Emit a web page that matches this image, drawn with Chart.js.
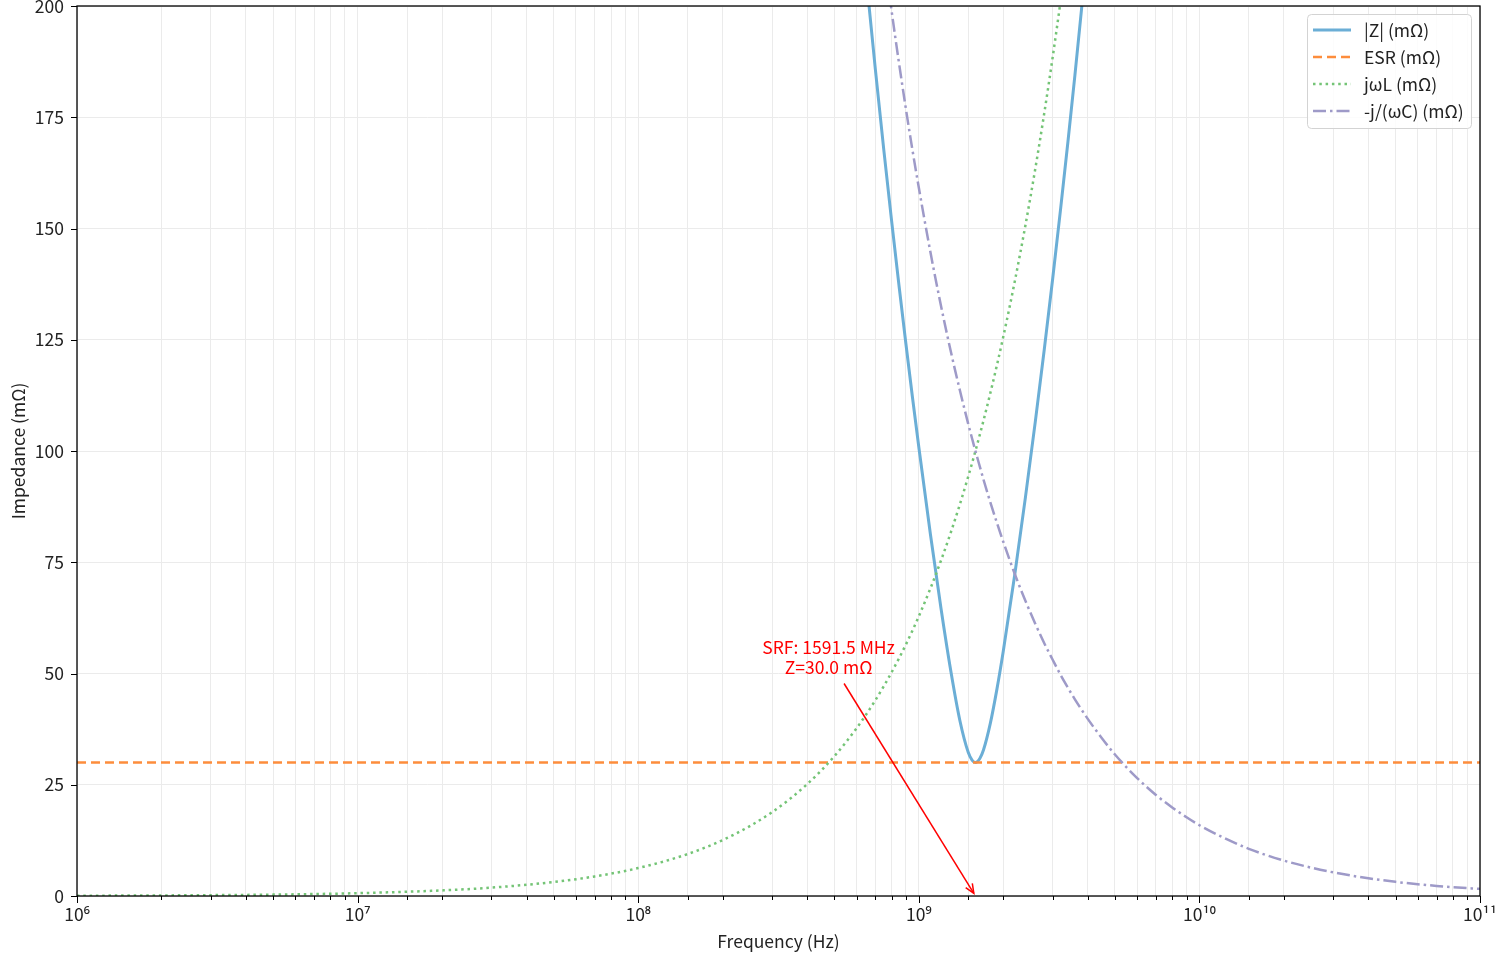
<!DOCTYPE html>
<html>
<head>
<meta charset="utf-8">
<title>Impedance vs frequency</title>
<script src="https://cdn.jsdelivr.net/npm/chart.js@4.4.1/dist/chart.umd.min.js"></script>
<style>
  html, body { margin: 0; padding: 0; background: #fff; overflow: hidden; }
  #wrap { position: absolute; left: 0; top: 0; width: 1511px; height: 954px; }
</style>
</head>
<body>
<div id="wrap"><canvas id="chart"></canvas></div>
<script>
// --- data (frequency in Hz, impedance in mOhm) ---
const freqHz = [
  1e6, 2e6, 3e6, 5e6, 7e6,
  1e7, 2e7, 3e7, 5e7, 7e7,
  1e8, 1.5e8, 2e8, 2.5e8, 3e8, 3.5e8, 4e8, 4.5e8, 5e8, 5.5e8, 6e8, 6.5e8, 7e8, 7.5e8, 8e8, 8.5e8, 9e8, 9.5e8,
  1e9, 1.1e9, 1.2e9, 1.3e9, 1.4e9, 1.5e9, 1.55e9, 1.5915e9, 1.65e9, 1.7e9, 1.8e9, 1.9e9, 2e9, 2.2e9, 2.4e9, 2.6e9, 2.8e9, 3e9, 3.2e9, 3.4e9, 3.6e9, 3.8e9, 4e9, 4.5e9,
  5e9, 6e9, 7e9, 8e9, 9e9,
  1e10, 1.2e10, 1.5e10, 2e10, 2.5e10, 3e10, 4e10, 5e10, 6e10, 7e10, 8e10, 1e11
];
const zMag = [
  null, null, null, null, null,
  null, null, null, null, null,
  null, null, null, null, null, null, null, null, null, null, 229.5, 206.2, 185.8, 167.8, 151.7, 137.2, 124.0, 111.9,
  100.9, 81.3, 64.6, 50.6, 39.5, 32.3, 30.5, 30.0, 30.9, 32.8, 38.9, 46.6, 55.0, 72.4, 89.7, 106.5, 122.8, 138.7, 154.3, 169.5, 184.4, 199.2, 213.7, null,
  null, null, null, null, null,
  null, null, null, null, null, null, null, null, null, null, null, null
];
const xInductive = [
  0.06, 0.13, 0.19, 0.31, 0.44,
  0.63, 1.26, 1.88, 3.14, 4.40,
  6.28, 9.42, 12.57, 15.71, 18.85, 21.99, 25.13, 28.27, 31.42, 34.56, 37.70, 40.84, 43.98, 47.12, 50.27, 53.41, 56.55, 59.69,
  62.83, 69.12, 75.40, 81.68, 87.96, 94.25, 97.39, 100.0, 103.67, 106.81, 113.10, 119.38, 125.66, 138.23, 150.80, 163.36, 175.93, 188.50, 201.06, 213.63, null, null, null, null,
  null, null, null, null, null,
  null, null, null, null, null, null, null, null, null, null, null, null
];
const xCapacitive = [
  null, null, null, null, null,
  null, null, null, null, null,
  null, null, null, null, null, null, null, null, null, null, 265.3, 244.9, 227.4, 212.2, 198.9, 187.2, 176.8, 167.5,
  159.2, 144.7, 132.6, 122.4, 113.7, 106.1, 102.7, 100.0, 96.5, 93.6, 88.4, 83.8, 79.6, 72.3, 66.3, 61.2, 56.8, 53.1, 49.7, 46.8, 44.2, 41.9, 39.8, 35.4,
  31.8, 26.5, 22.7, 19.9, 17.7,
  15.9, 13.3, 10.6, 7.96, 6.37, 5.31, 3.98, 3.18, 2.65, 2.27, 1.99, 1.59
];
const esrFreq = [1e6, 1e11];
const esrValues = [30, 30];
const seriesLabels = ['|Z| (mΩ)', 'ESR (mΩ)', 'jωL (mΩ)', '-j/(ωC) (mΩ)'];
const yTickStep = 25;
const xRange = [1e6, 1e11];
const yRange = [0, 200];
const annotLines = ['SRF: 1591.5 MHz', 'Z=30.0 mΩ'];
const annotTextAt = [4.77e8, 50];
const annotPointAt = [1.5915e9, 0.03];

const FONT = '"Noto Sans CJK SC", "Noto Sans", "DejaVu Sans", sans-serif';
const FS = 17.5;
const SUP = { '-': '⁻', 0: '⁰', 1: '¹', 2: '²', 3: '³', 4: '⁴', 5: '⁵', 6: '⁶', 7: '⁷', 8: '⁸', 9: '⁹' };
const isDecade = v => Math.abs(Math.log10(v) - Math.round(Math.log10(v))) < 1e-9;
const pts = (xs, ys) => xs.map((f, i) => ({ x: f, y: ys[i] }));

// --- frame, tick marks, titles, annotation and legend ---
const decorPlugin = {
  id: 'decor',
  afterDatasetsDraw(chart) {
    const { ctx, chartArea: a, scales: { x, y } } = chart;
    ctx.save();
    ctx.strokeStyle = '#000';
    ctx.lineWidth = 1.3;
    ctx.strokeRect(a.left, a.top, a.right - a.left, a.bottom - a.top);

    ctx.lineWidth = 1;
    x.ticks.forEach(t => {
      const px = Math.round(x.getPixelForValue(t.value)) + 0.5;
      ctx.beginPath(); ctx.moveTo(px, a.bottom); ctx.lineTo(px, a.bottom + (isDecade(t.value) ? 7 : 4)); ctx.stroke();
    });
    y.ticks.forEach(t => {
      const py = Math.round(y.getPixelForValue(t.value)) + 0.5;
      ctx.beginPath(); ctx.moveTo(a.left, py); ctx.lineTo(a.left - 6, py); ctx.stroke();
    });

    ctx.fillStyle = '#222';
    ctx.font = FS + 'px ' + FONT;
    ctx.textAlign = 'center'; ctx.textBaseline = 'middle';
    ctx.fillText('Frequency (Hz)', (a.left + a.right) / 2, 941);
    ctx.save();
    ctx.translate(18, (a.top + a.bottom) / 2);
    ctx.rotate(-Math.PI / 2);
    ctx.fillText('Impedance (mΩ)', 0, 0);
    ctx.restore();

    // SRF annotation
    const cx = x.getPixelForValue(annotTextAt[0]);
    const base = y.getPixelForValue(annotTextAt[1]);
    ctx.fillStyle = '#ff0000';
    ctx.textBaseline = 'alphabetic';
    annotLines.forEach((l, i) => ctx.fillText(l, cx, base - (annotLines.length - 1 - i) * 20));
    const tx = x.getPixelForValue(annotPointAt[0]), ty = y.getPixelForValue(annotPointAt[1]);
    const cy = base - 15, sy = base + 10;
    const sx = cx + (sy - cy) / (ty - cy) * (tx - cx);
    const ang = Math.atan2(ty - sy, tx - sx);
    const ex = tx - 3 * Math.cos(ang), ey = ty - 3 * Math.sin(ang);
    ctx.strokeStyle = '#ff0000'; ctx.lineWidth = 1.5;
    ctx.beginPath(); ctx.moveTo(sx, sy); ctx.lineTo(ex, ey); ctx.stroke();
    ctx.beginPath();
    ctx.moveTo(ex - 10 * Math.cos(ang - 0.4), ey - 10 * Math.sin(ang - 0.4));
    ctx.lineTo(ex, ey);
    ctx.lineTo(ex - 10 * Math.cos(ang + 0.4), ey - 10 * Math.sin(ang + 0.4));
    ctx.stroke();

    // legend box
    const bw = 164, bh = 114, bx = a.right - 9 - bw, by = a.top + 8;
    ctx.beginPath();
    ctx.roundRect(bx + 0.5, by + 0.5, bw, bh, 4);
    ctx.fillStyle = 'rgba(255,255,255,0.85)'; ctx.fill();
    ctx.strokeStyle = '#d3d3d3'; ctx.lineWidth = 1; ctx.stroke();
    ctx.textAlign = 'left'; ctx.textBaseline = 'middle';
    chart.data.datasets.forEach((ds, i) => {
      const ry = by + 16 + i * 27;
      ctx.strokeStyle = ds.borderColor; ctx.lineWidth = ds.borderWidth;
      ctx.setLineDash(ds.borderDash || []);
      ctx.beginPath(); ctx.moveTo(bx + 6, ry); ctx.lineTo(bx + 44, ry); ctx.stroke();
      ctx.setLineDash([]);
      ctx.fillStyle = '#222';
      ctx.fillText(ds.label, bx + 57, ry);
    });
    ctx.restore();
  }
};

const common = { pointRadius: 0, fill: false, clip: 0, cubicInterpolationMode: 'monotone', spanGaps: false };

new Chart(document.getElementById('chart'), {
  type: 'line',
  data: {
    datasets: [
      { ...common, label: seriesLabels[0], data: pts(freqHz, zMag), borderColor: '#6baed6', borderWidth: 3, order: 4 },
      { ...common, label: seriesLabels[1], data: pts(esrFreq, esrValues), borderColor: '#fd8d3c', borderWidth: 2.5, borderDash: [9, 5], order: 3 },
      { ...common, label: seriesLabels[2], data: pts(freqHz, xInductive), borderColor: '#74c476', borderWidth: 2.5, borderDash: [2.5, 3.8], order: 2 },
      { ...common, label: seriesLabels[3], data: pts(freqHz, xCapacitive), borderColor: '#9e9ac8', borderWidth: 2.5, borderDash: [13, 4, 2.5, 4], order: 1 }
    ]
  },
  options: {
    responsive: true,
    maintainAspectRatio: false,
    animation: false,
    layout: { padding: { top: 6, right: 31, bottom: 0, left: 0 } },
    plugins: { legend: { display: false }, tooltip: { enabled: false } },
    scales: {
      x: {
        type: 'logarithmic', min: xRange[0], max: xRange[1],
        grid: { color: '#ebebeb', lineWidth: 1, drawTicks: false },
        border: { display: false },
        ticks: {
          autoSkip: false, maxRotation: 0, padding: 8, color: '#222',
          font: { family: FONT, size: FS },
          callback: v => isDecade(v) ? '10' + String(Math.round(Math.log10(v))).split('').map(c => SUP[c]).join('') : ''
        },
        afterFit: s => { s.height = 58; s.paddingLeft = 0; s.paddingRight = 0; }
      },
      y: {
        min: yRange[0], max: yRange[1],
        grid: { color: '#ebebeb', lineWidth: 1, drawTicks: false },
        border: { display: false },
        ticks: { stepSize: yTickStep, padding: 13, color: '#222', font: { family: FONT, size: FS } },
        afterFit: s => { s.width = 77; s.paddingTop = 0; s.paddingBottom = 0; }
      }
    }
  },
  plugins: [decorPlugin]
});
</script>
</body>
</html>
